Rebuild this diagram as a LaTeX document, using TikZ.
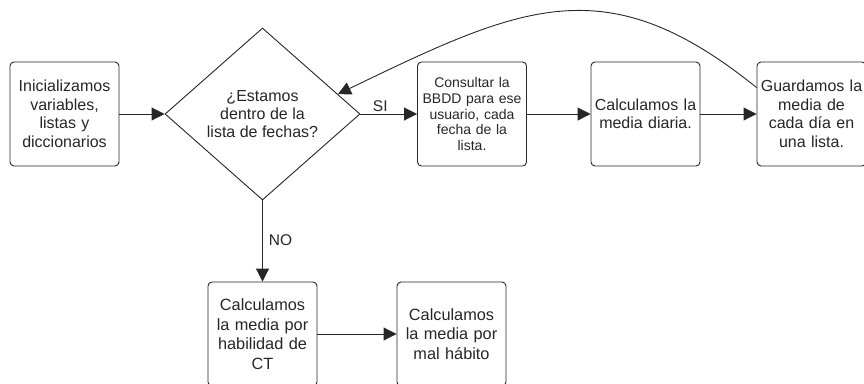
\documentclass[tikz,border=0pt]{standalone}
\usepackage{fontspec}
\setmainfont{Liberation Sans}
\usetikzlibrary{arrows.meta,shapes.geometric,calc}
\definecolor{ink}{HTML}{262626}
\tikzset{
  stepbox/.style={draw=ink, line width=0.9pt, rounded corners=4pt, minimum width=109pt, minimum height=104pt, inner sep=0pt, text width=105pt, align=center, text=ink, font=\fontsize{16}{18.5}\selectfont},
  smallbox/.style={stepbox, font=\fontsize{14}{15.7}\selectfont},
  tallbox/.style={stepbox, font=\fontsize{16.3}{19.6}\selectfont},
  decision/.style={draw=ink, line width=0.9pt, diamond, aspect=1.134, minimum width=195pt, minimum height=172pt, inner sep=0pt, align=center, text=ink, font=\fontsize{16}{18.3}\selectfont},
  flow/.style={draw=ink, line width=0.9pt, -{Triangle[length=13pt,width=13pt]}},
  lbl/.style={text=ink, font=\fontsize{15.5}{18}\selectfont, inner sep=2pt}
}
\begin{document}
\begin{tikzpicture}[x=1pt,y=-1pt]
\useasboundingbox (0,0) rectangle (864,383);
\clip (0,0) rectangle (864,383);
\node[stepbox] (init) at (64.5,114) {Inicializamos\\variables,\\listas y\\diccionarios};
\node[decision] (dia) at (262.5,114) {¿Estamos\\dentro de la\\lista de fechas?};
\node[smallbox] (consult) at (472,114) {Consultar la\\BBDD para ese\\usuario, cada\\fecha de la\\lista.};
\node[stepbox] (diaria) at (645.5,114) {Calculamos la\\media diaria.};
\node[stepbox] (guard) at (811.5,114) {Guardamos la\\media de\\cada día en\\una lista.};
\node[tallbox] (ct) at (262.5,334) {Calculamos\\la media por\\habilidad de\\CT};
\node[tallbox] (mal) at (451.5,334) {Calculamos\\la media por\\mal hábito};
\coordinate (gstart) at ($(guard.north west)+(0,26)$);
\coordinate (dend) at ($(dia.east)!0.23!(dia.north)$);
\draw[flow] (init.east) -- (dia.west);
\draw[flow] (dia.east) -- node[lbl, pos=0.35, above] {SI} (consult.west);
\draw[flow] (consult.east) -- (diaria.west);
\draw[flow] (diaria.east) -- (guard.west);
\draw[flow] (dia.south) -- node[lbl, pos=0.49, right=4pt] {NO} (ct.north);
\draw[flow] (ct.east) -- (ct.east -| mal.west);
\draw[flow] (gstart) .. controls (606,-34) and (522.5,5) .. (dend);
\end{tikzpicture}
\end{document}
